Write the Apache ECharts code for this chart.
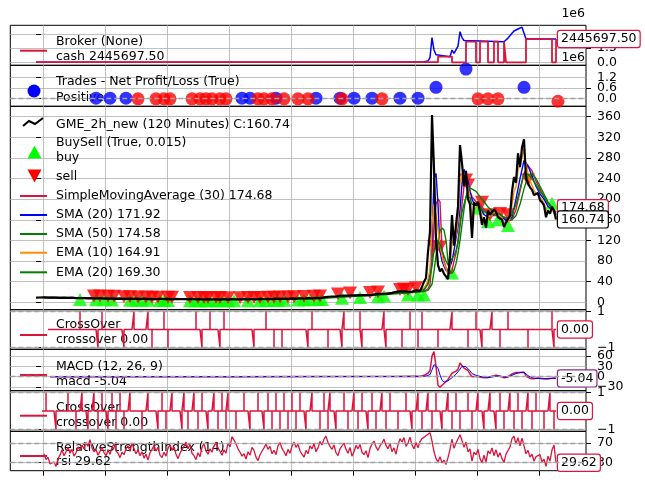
<!DOCTYPE html>
<html><head><meta charset="utf-8">
<script src="https://cdn.jsdelivr.net/npm/echarts@6/dist/echarts.min.js"></script>
<style>html,body{margin:0;padding:0;background:#fff}#c{width:645px;height:486px}</style>
</head><body><div id="c"></div>
<script>
// ---------------- DATA ----------------
// bar index 0..260
const closes = [
9.2,9.5,9.3,9.0,9.4,9.6,9.1,8.8,9.0,9.3,
9.1,8.7,8.5,8.9,9.2,8.8,8.4,8.6,8.9,8.5,
8.2,7.9,8.3,8.6,8.1,7.8,7.5,7.9,8.2,7.7,
7.4,7.8,8.1,7.6,7.3,7.0,7.4,7.8,7.2,6.9,
6.6,7.1,7.3,6.8,6.4,6.9,7.2,6.7,6.5,6.8,
7.0,6.6,6.2,6.7,7.1,6.5,6.3,6.6,6.8,6.4,
6.0,6.5,6.9,6.3,6.1,6.4,6.6,6.2,5.8,6.3,
6.7,6.1,5.9,6.2,6.4,6.0,5.6,6.1,6.5,5.9,
5.5,6.0,6.3,5.7,5.4,5.9,6.2,5.8,5.3,5.7,
6.1,5.6,5.2,5.8,6.0,5.4,5.1,5.6,6.0,5.5,
5.6,5.9,5.5,5.8,6.2,5.9,5.7,6.1,6.4,6.0,
5.8,6.2,6.5,6.1,5.9,6.3,6.7,6.4,6.2,6.6,
7.0,6.7,6.5,6.9,7.3,7.0,6.8,7.2,7.6,7.3,
7.1,7.5,7.9,7.6,7.4,7.8,8.2,7.9,7.7,8.1,
8.5,8.2,8.0,8.6,9.4,10.1,10.8,10.3,11.2,11.8,
11.4,12.1,12.7,12.2,12.9,13.5,13.0,12.6,13.3,13.9,
13.5,14.2,13.8,13.4,14.0,14.6,14.1,13.7,14.4,15.2,
16.0,15.5,16.3,17.1,16.6,16.1,16.8,17.5,18.4,19.2,
20.1,19.5,21.3,22.4,21.0,19.8,20.6,19.2,20.4,21.8,
23.1,22.6,22.0,30.0,40.0,47.0,98.0,137.0,363.0,260.0,
120.0,72.0,60.0,65.0,55.0,52.0,45.0,90.0,169.0,110.0,
150.0,185.0,305.0,270.0,225.0,255.0,200.0,190.0,125.0,194.0,
188.0,195.0,175.0,150.0,165.0,145.0,178.0,170.0,168.0,180.0,
176.0,165.0,168.0,160.0,146.0,155.0,158.0,168.0,215.0,243.0,
232.0,289.0,262.0,300.0,316.0,240.0,231.0,223.0,218.0,208.0,
205.0,212.0,198.0,194.0,188.0,165.0,178.0,172.0,185.0,178.0,
160.74];

const sma30 = [[7,9.3],[20,8.8],[40,7.6],[60,6.6],[80,6.1],[100,5.7],[120,6.3],[140,7.8],[150,10.2],[160,12.9],[170,14.4],[180,17.8],[190,20.3],[194,22],[196,26],[197,35],[198,80],[199,150],[200,190],[201,200],[202,195],[203,105],[204,80],[205,68],[206,60],[207,55],[208,62],[209,80],[210,95],[211,120],[212,150],[213,190],[214,225],[215,235],[216,230],[217,215],[218,205],[220,195],[222,190],[224,180],[226,172],[228,168],[230,168],[232,168],[234,163],[236,158],[238,160],[240,180],[242,215],[244,250],[246,265],[248,255],[250,235],[252,220],[254,205],[256,192],[258,184],[260,174.68]];
const sma20 = [[4,9.3],[20,8.7],[40,7.4],[60,6.5],[80,6.0],[100,5.6],[120,6.5],[140,8.0],[150,10.8],[160,13.2],[170,15.0],[180,18.8],[190,20.8],[194,25],[196,38],[197,55],[198,120],[199,240],[200,250],[201,190],[202,100],[203,80],[204,70],[205,62],[206,58],[207,60],[208,80],[209,100],[210,125],[211,146],[212,180],[213,230],[214,258],[215,255],[216,235],[217,215],[218,200],[219,192],[220,190],[222,185],[224,170],[226,165],[228,168],[230,172],[232,170],[234,162],[236,156],[238,165],[240,200],[242,240],[244,275],[246,265],[248,245],[250,225],[252,210],[254,200],[256,186],[258,180],[260,171.92]];
const sma50 = [[11,9.0],[20,8.9],[40,7.8],[60,6.8],[80,6.2],[100,5.8],[120,6.1],[140,7.4],[150,9.2],[160,11.8],[170,13.8],[180,16.5],[190,19.5],[194,21],[196,23],[198,35],[199,60],[200,90],[201,120],[202,138],[203,144],[204,140],[205,120],[206,80],[207,60],[208,56],[209,62],[210,75],[211,95],[212,120],[213,150],[214,180],[215,205],[216,218],[217,222],[218,222],[220,215],[222,205],[224,195],[226,185],[228,178],[230,172],[232,168],[234,165],[236,162],[238,160],[240,168],[242,190],[244,220],[246,245],[248,250],[250,240],[252,225],[254,210],[256,195],[258,182],[260,174.58]];
const ema10 = [[2,9.3],[20,8.4],[40,6.9],[60,6.4],[80,5.9],[100,5.7],[120,6.7],[140,8.2],[150,11.3],[160,13.5],[170,15.5],[180,19.5],[190,21.5],[192,22.2],[193,24],[194,28],[195,32],[196,45],[197,62],[198,150],[199,190],[200,170],[201,140],[202,110],[203,90],[204,75],[205,65],[206,55],[207,70],[208,115],[209,112],[210,130],[211,158],[212,230],[213,250],[214,238],[215,246],[216,222],[217,205],[218,165],[219,180],[220,184],[221,190],[222,182],[223,166],[224,165],[225,155],[226,166],[227,168],[228,168],[229,174],[230,175],[231,170],[232,169],[233,164],[234,155],[235,155],[236,156],[237,162],[238,188],[239,215],[240,224],[241,256],[242,259],[243,280],[244,298],[245,268],[246,250],[247,236],[248,227],[249,217],[250,211],[251,211],[252,204],[253,199],[254,193],[255,179],[256,178],[257,175],[258,180],[259,179],[260,164.91]];
const ema20 = [[4,9.3],[20,8.6],[40,7.2],[60,6.5],[80,6.0],[100,5.7],[120,6.5],[140,8.0],[150,10.6],[160,13.1],[170,15.0],[180,18.7],[190,20.8],[194,24],[196,35],[197,50],[198,70],[199,100],[200,115],[201,120],[202,112],[203,100],[204,90],[205,80],[206,72],[207,72],[208,85],[209,90],[210,100],[211,115],[212,150],[213,175],[214,190],[215,205],[216,205],[217,203],[218,190],[220,190],[222,185],[224,176],[226,172],[228,170],[230,172],[232,171],[234,165],[236,162],[238,170],[240,190],[242,220],[244,250],[246,248],[248,240],[250,228],[252,215],[254,205],[256,192],[258,185],[260,169.30]];

const buys = [[22,5.5],[30,5],[34,5],[38,4.5],[47,4],[50,4],[53,4],[56,3.8],[62,3.5],[64,3.5],[66,3.5],[77,3.2],[80,3],[82,3],[85,3],[87,3],[91,3],[93,3],[96,2.8],[99,2.8],[106,3],[112,3.2],[115,3.3],[119,3.6],[121,4],[124,4.2],[131,4.5],[134,4.8],[137,5],[141,5.2],[143,5.5],[153,8],[162,9.5],[171,11],[174,12],[186,14],[191,14],[194,14],[208,57],[221,183],[226,156],[231,160],[236,149],[258,192]];
const sells = [[29,12],[32,12],[36,11.5],[39,11.5],[44,11],[47,11],[51,10.5],[55,10.5],[58,10],[61,10],[66,10],[68,10],[77,9.5],[81,9.5],[84,9.5],[86,9.5],[90,9.3],[92,9.3],[96,9],[102,9],[106,9.3],[109,9.5],[112,9.5],[116,9.8],[119,10],[122,10.3],[126,10.5],[129,11],[134,11.2],[139,11.6],[142,12],[151,16],[157,18],[167,19],[171,20],[182,25],[184,26],[186,25],[190,28],[199,108],[202,107],[215,237],[216,227],[223,194],[227,170],[232,172],[236,170],[246,237]];

// broker (units of 1e6)
const cashSteps = [[0,0.01],[201,0.59],[208,0],[215,2.17],[220,0],[222,2.17],[226,0],[229,2.17],[231,0],[234,2.17],[235,0],[245,2.4456975],[258,0],[260,2.4456975]];
const valueLine = [[0,0.01],[100,0.012],[150,0.015],[180,0.02],[190,0.03],[194,0.06],[196,0.15],[197,0.5],[198,2.59],[199,1.3],[200,0.8],[201,0.59],[207,0.59],[208,1.29],[209,0.95],[210,1.15],[211,1.7],[212,3.22],[213,2.6],[214,2.3],[215,2.17],[234,2.17],[235,2.35],[236,2.55],[237,2.75],[238,3.05],[239,3.3],[240,3.2],[241,3.5],[242,3.4],[243,3.7],[244,3.82],[245,2.4456975],[260,2.4456975]];

// trades net profit/loss (units of 1e6)
const tradesWin = [[30,0.01],[37,0.01],[45,0.01],[103,0.01],[107,0.01],[120,0.01],[140,0.01],[152,0.01],[159,0.01],[168,0.01],[182,0.01],[191,0.01],[200,0.64],[215,1.70],[244,0.64]];
const tradesLoss = [[51,-0.03],[60,-0.03],[64,-0.03],[67,-0.03],[78,-0.03],[82,-0.03],[85,-0.03],[88,-0.03],[92,-0.03],[95,-0.03],[111,-0.03],[114,-0.03],[118,-0.03],[124,-0.03],[131,-0.03],[136,-0.03],[153,-0.03],[173,-0.03],[221,-0.03],[226,-0.03],[231,-0.03],[261,-0.17]];

// crossover events (bar indices)
const cross1Up = [22,33,49,56,64,80,87,94,115,138,154,162,174,187,193,208,220,228,236,258];
const cross1Down = [31,44,58,66,83,92,109,119,123,136,146,153,163,175,183,191,201,216,223,232,246,259];
const cross2Up = [5,16,23,29,33,38,42,47,56,63,68,74,79,83,89,93,96,104,111,116,120,124,128,132,138,144,147,154,159,163,168,173,177,185,191,196,200,206,210,216,221,227,232,237,241,246,250,257];
const cross2Down = [10,20,26,31,36,40,44,53,61,65,73,76,81,86,91,95,100,107,114,118,122,126,130,135,142,146,150,156,161,166,170,175,181,188,193,198,203,208,212,218,224,230,234,239,243,248,254,259];

const macdLine = [[7,0],[50,-0.2],[100,-0.1],[140,0.3],[160,0.6],[180,0.8],[190,1.0],[192,0.5],[193,2],[194,4],[195,5],[196,10],[197,18],[198,60],[199,73],[200,30],[201,-25],[202,-31],[203,-25],[204,-20],[205,-14],[206,-8],[207,-5],[208,10],[209,12],[210,16],[211,22],[212,40],[213,44],[214,25],[215,30],[216,18],[217,8],[218,0],[219,2],[220,1],[221,2],[222,-1],[223,-4],[224,-3],[225,-5],[226,-2],[227,0],[228,1],[229,3],[230,4],[231,2],[232,1],[233,-1],[234,-3],[235,-2],[236,0],[237,3],[238,8],[239,10],[240,12],[241,15],[242,12],[243,14],[244,13],[245,2],[246,-3],[247,-5],[248,-6],[249,-6],[250,-5],[251,-4],[252,-5],[253,-6],[254,-5],[255,-7],[256,-6],[257,-5],[258,-4],[259,-4],[260,-5.04]];
const macdSignal = [[7,0],[50,-0.1],[100,-0.1],[140,0.2],[160,0.5],[180,0.7],[190,0.9],[193,1],[195,2],[196,3],[197,6],[198,20],[199,35],[200,38],[201,25],[202,5],[203,-10],[204,-16],[205,-15],[206,-12],[207,-9],[208,-3],[209,2],[210,7],[211,12],[212,22],[213,30],[214,28],[215,29],[216,24],[217,17],[218,9],[219,6],[220,4],[221,3],[222,1],[223,-1],[224,-2],[225,-3],[226,-3],[227,-2],[228,-1],[229,1],[230,2],[231,2],[232,2],[233,1],[234,-1],[235,-1],[236,-1],[237,1],[238,4],[239,7],[240,9],[241,12],[242,12],[243,13],[244,13],[245,8],[246,3],[247,-1],[248,-3],[249,-5],[250,-5],[251,-5],[252,-5],[253,-5],[254,-5],[255,-6],[256,-6],[257,-5],[258,-5],[259,-4],[260,-4.5]];

const rsiStart = 4;
const rsi = [
48,36,41,27,24,31,22,38,45,56,
44,52,61,49,57,43,50,62,55,66,
58,71,63,77,60,52,57,45,53,62,
50,44,55,47,61,68,54,49,40,51,
46,59,64,53,70,58,48,56,44,52,
39,47,35,50,57,65,53,61,45,40,
51,43,59,66,55,62,47,38,49,57,
63,72,58,67,49,44,36,50,42,61,
69,54,47,58,51,64,72,60,53,45,
56,49,70,62,83,76,68,58,51,43,
48,37,52,45,61,55,41,34,46,53,
60,68,57,63,48,55,46,64,71,59,
52,44,57,49,63,72,61,67,54,47,
41,55,48,64,58,69,52,60,73,66,
78,84,71,63,57,66,50,44,58,62,
70,57,49,61,43,52,65,58,67,51,
46,54,40,59,68,74,62,55,64,70,
78,65,58,69,52,60,47,66,79,72,
81,63,70,82,66,58,71,60,73,79,
76,85,88,91,74,52,38,31,42,29,
35,26,40,57,78,59,70,66,87,75,
61,72,52,58,33,51,46,57,38,29,
45,31,54,48,60,44,56,41,50,38,
30,47,43,62,79,84,68,81,64,80,
83,48,55,41,47,33,42,38,46,31,
37,22,43,33,56,66,29.62];

// axis ticks
const xTicks = [3.65,34.65,65.65,96.65,127.65,158.65,189.65,220.65,251.65];
const brokerTicks = [0,1.5,3.0];
const tradeTicks = [0,0.6,1.2];
const priceTicks = [0,40,80,120,160,200,240,280,320,360];
const crossTicks = [-1,1];
const macdTicks = [-30,0,30,60];
const rsiTicks = [30,70];

// ---------------- CHART ----------------
const FONT = '"DejaVu Sans"';
const FS = 12.5;
const CRIMSON = '#dc143c';
const GRID = '#b0b0b0';
const last = a => { const v = a[a.length-1]; return Array.isArray(v) ? v[1] : v; };
const minus = s => String(s).replace('-', '\u2212');

const panels = [
  {top:25.3, h:40,    min:-0.316, max:3.895, ticks:brokerTicks, dec:1, noLabel:[3.0]},
  {top:65.3, h:41,    min:-0.465, max:1.919, ticks:tradeTicks,  dec:1},
  {top:106.3,h:203.4, min:-14.35, max:380.1, ticks:priceTicks,  dec:0},
  {top:309.7,h:39.6,  min:-1.088, max:1.088, ticks:crossTicks,  dec:0},
  {top:349.3,h:41.4,  min:-40.8,  max:79.8,  ticks:macdTicks,   dec:0},
  {top:390.7,h:40.6,  min:-1.091, max:1.091, ticks:crossTicks,  dec:0},
  {top:431.3,h:39.4,  min:13.2,   max:94,    ticks:rsiTicks,    dec:0}
];
const XMIN = -12.85, XMAX = 275;

const grids = panels.map(p => ({left:10.3, width:575.7, top:p.top, height:p.h, show:true, borderColor:'#000', borderWidth:1, backgroundColor:'transparent'}));
const xAxes = panels.map((p,k) => ({
  type:'value', gridIndex:k, min:XMIN, max:XMAX,
  axisLine:{show:false}, axisLabel:{show:false},
  axisTick:{show:k===panels.length-1, length:5, customValues:xTicks, lineStyle:{color:'#000', width:1}},
  splitLine:{show:true, lineStyle:{color:GRID, width:0.8}}
}));
// two y axes per panel (alternate ticks) so that tightly packed labels are all kept, as in the original
const yAxes = [];
panels.forEach((p,k) => {
  [0,1].forEach(part => {
    const t = p.ticks.filter((v,j) => j%2===part);
    const lab = t.filter(v => !(p.noLabel||[]).includes(v));
    yAxes.push({
      type:'value', gridIndex:k, position:'right', offset:0, min:p.min, max:p.max,
      axisLine:{show:false},
      axisTick:{show:true, length:5, customValues:t, lineStyle:{color:'#000', width:1}},
      axisLabel:{show:lab.length>0, customValues:lab.length?lab:t, hideOverlap:false, margin:11, color:'#000', fontFamily:FONT, fontSize:FS,
        formatter: v => minus(Number(v).toFixed(p.dec))},
      splitLine:{show:true, lineStyle:{color:GRID, width:0.8}}
    });
  });
});

function endLbl(text, border, offset){
  return {show:true, formatter:text, color:'#000', backgroundColor:'#fff', borderColor:border, borderWidth:1.2,
    borderRadius:2, padding:[2,3,1,3], fontFamily:FONT, fontSize:FS, distance:2, offset:offset||[0,0]};
}
function hlines(vals){
  return {silent:true, symbol:'none', animation:false, label:{show:false},
    lineStyle:{color:'#a0a0a0', type:[5,3], width:1.4}, data:vals.map(v=>({yAxis:v}))};
}
// crossover line: zero baseline with a vertical spike at each event bar
function spikes(start, end, ups, downs){
  const out=[];
  for(let i=start;i<=end;i++){
    out.push([i,0]);
    if(ups.includes(i)){ out.push([i,1],[i,0]); }
    else if(downs.includes(i)){ out.push([i,-1],[i,0]); }
  }
  return out;
}
const line = (k, data, color, w, extra) => Object.assign({type:'line', xAxisIndex:k, yAxisIndex:2*k, data, symbol:'none', lineStyle:{color, width:w}, itemStyle:{color}, silent:true}, extra||{});
const scatter = (k, data, color, extra) => Object.assign({type:'scatter', xAxisIndex:k, yAxisIndex:2*k, data, itemStyle:{color}, silent:true}, extra||{});

const N = closes.length;
const cross1 = spikes(6, N-1, cross1Up, cross1Down);
const cross2 = spikes(3, N-1, cross2Up, cross2Down);

const series = [
  line(0, valueLine, '#0000ff', 1.5),
  line(0, cashSteps, CRIMSON, 1.8, {step:'end', endLabel:endLbl(() => (last(cashSteps)*1e6).toFixed(2), CRIMSON)}),
  scatter(1, tradesWin, '#0000ff', {symbolSize:13, markLine:hlines([0])}),
  scatter(1, tradesLoss, '#ff0000', {symbolSize:13}),
  line(2, sma30, CRIMSON, 1.4, {endLabel:endLbl(last(sma30).toFixed(2), CRIMSON, [0,-4])}),
  line(2, sma20, '#0000ff', 1.4),
  line(2, sma50, '#008000', 1.4),
  line(2, ema10, '#ff8c00', 1.4),
  line(2, ema20, '#008000', 1.4),
  scatter(2, buys, '#00ff00', {symbol:'triangle', symbolSize:[14,13]}),
  scatter(2, sells, '#ff0000', {symbol:'triangle', symbolRotate:180, symbolSize:[14,13]}),
  line(2, closes.map((v,i)=>[i,v]), '#000', 2.2, {z:3, endLabel:endLbl(last(closes).toFixed(2), '#000')}),
  line(3, cross1, CRIMSON, 1.5, {markLine:hlines([1,-1]), endLabel:endLbl(last(cross1).toFixed(2), CRIMSON)}),
  line(4, macdLine, CRIMSON, 1.5, {endLabel:endLbl(last(macdLine).toFixed(2), '#8a2a8a')}),
  line(4, macdSignal, '#0000ff', 1, {markLine:hlines([0])}),
  line(5, cross2, CRIMSON, 1.5, {markLine:hlines([1,-1]), endLabel:endLbl(last(cross2).toFixed(2), CRIMSON)}),
  line(6, rsi.map((v,i)=>[i+rsiStart,v]), CRIMSON, 1.3, {markLine:hlines([30,70]), endLabel:endLbl(last(rsi).toFixed(2), CRIMSON)})
];

// ---------------- legends (layout) ----------------
const tfont = FS + 'px ' + FONT;
const T = (x,y,s) => ({type:'text', x, y, z:1, silent:true, style:{text:s, fill:'#000', font:tfont, textVerticalAlign:'middle', verticalAlign:'middle'}});
const L = (y,color) => ({type:'line', z:1, silent:true, shape:{x1:20,y1:y,x2:47,y2:y}, style:{stroke:color, lineWidth:2}});
const f2 = v => v.toFixed(2);
const graphics = [
  {type:'text', right:60, top:7, z:1, style:{text:'1e6', fill:'#000', font:tfont}},
  {type:'text', right:60, top:51, z:1, style:{text:'1e6', fill:'#000', font:tfont}},
  L(50.7, CRIMSON), T(56,41.7,'Broker (None)'), T(56,56.7,'cash ' + (last(cashSteps)*1e6).toFixed(2)),
  {type:'circle', z:1, shape:{cx:34, cy:91, r:6.5}, style:{fill:'#0000ff'}},
  T(56,82,'Trades - Net Profit/Loss (True)'), T(56,97.7,'Positive'),
  {type:'polyline', z:1, shape:{points:[[23,126],[29,121],[35,124],[43,118]]}, style:{stroke:'#000', lineWidth:2, fill:null}},
  T(56,125,'GME_2h_new (120 Minutes) C:' + f2(last(closes))),
  T(56,142.7,'BuySell (True, 0.015)'), T(56,157.3,'buy'),
  {type:'polygon', z:1, shape:{points:[[34.5,145.5],[27.5,158.5],[41.5,158.5]]}, style:{fill:'#00ff00'}},
  {type:'polygon', z:1, shape:{points:[[27.5,169.5],[41.5,169.5],[34.5,182.5]]}, style:{fill:'#ff0000'}},
  T(56,176.7,'sell'),
  L(196,CRIMSON), T(56,196,'SimpleMovingAverage (30) ' + f2(last(sma30))),
  L(215,'#0000ff'), T(56,215,'SMA (20) ' + f2(last(sma20))),
  L(234,'#008000'), T(56,234,'SMA (50) ' + f2(last(sma50))),
  L(252.7,'#ff8c00'), T(56,252.7,'EMA (10) ' + f2(last(ema10))),
  L(272.3,'#008000'), T(56,272.3,'EMA (20) ' + f2(last(ema20))),
  L(335,CRIMSON), T(56,325,'CrossOver'), T(56,340,'crossover ' + f2(last(cross1))),
  L(375,CRIMSON), T(56,366.7,'MACD (12, 26, 9)'), T(56,381.7,'macd ' + f2(last(macdLine))),
  L(415.7,CRIMSON), T(56,407.7,'CrossOver'), T(56,422.7,'crossover ' + f2(last(cross2))),
  L(456,CRIMSON), T(56,447.3,'RelativeStrengthIndex (14)'), T(56,461.7,'rsi ' + f2(last(rsi)))
];

const chart = echarts.init(document.getElementById('c'), null, {renderer:'canvas'});
chart.setOption({
  animation:false,
  backgroundColor:'#fff',
  grid:grids, xAxis:xAxes, yAxis:yAxes, series, graphic:graphics
});
</script></body></html>
